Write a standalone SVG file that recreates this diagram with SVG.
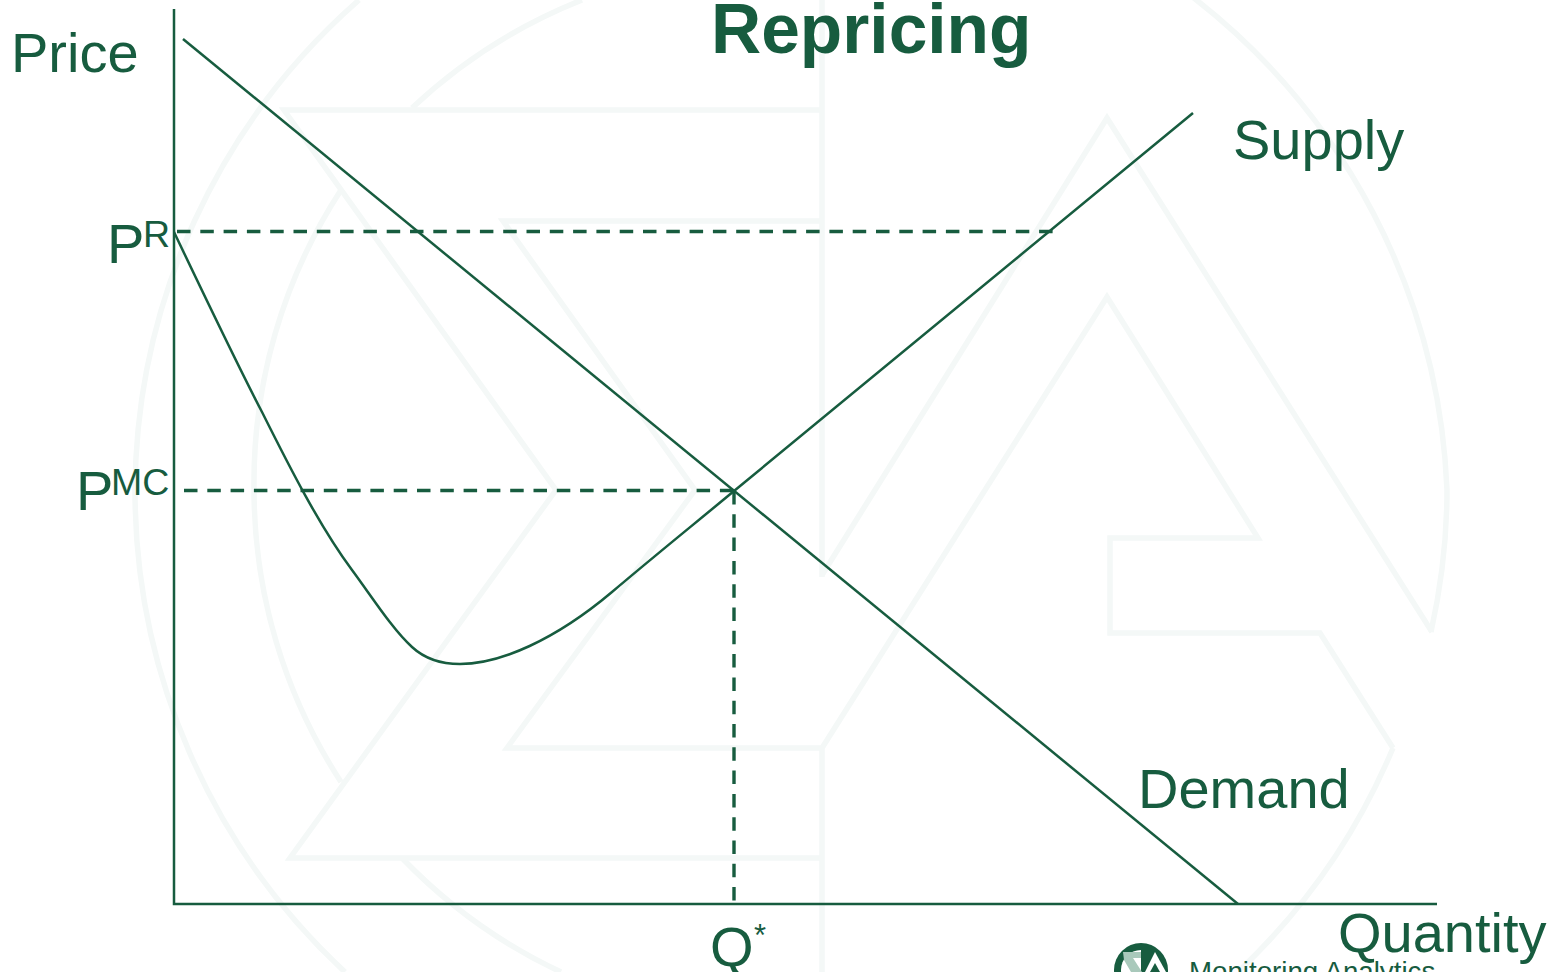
<svg xmlns="http://www.w3.org/2000/svg" width="1550" height="972" viewBox="0 0 1550 972">
<style>
text{font-family:"Liberation Sans",Arial,sans-serif;fill:#175c3f}
.l{font-size:56px}
.s{font-size:37.5px}
.wm{fill:none;stroke:#f4f8f7;stroke-width:5.5;stroke-miterlimit:10}
.c{fill:none;stroke:#175c3f;stroke-width:2.5}
.d{fill:none;stroke:#175c3f;stroke-width:3.4;stroke-dasharray:13.5 9.8}
</style>
<rect width="1550" height="972" fill="#fff"/>
<g id="watermark">
<path class="wm" d="M359 0A657 657 0 0 0 135 490A657 657 0 0 0 345 972M1190 -5A657 657 0 0 1 1447 490Q1447 560 1431 632"/>
<path class="wm" d="M1393 748A657 657 0 0 1 1240 970M412 108A537 537 0 0 1 582 0M341 190A537 537 0 0 0 254 490A537 537 0 0 0 341 782M402 858A537 537 0 0 0 561 972"/>
<path class="wm" d="M822 0V577M822 748V972M822 110H284L556 490L290 858H822M822 221H503L695 490L507 748H822"/>
<path class="wm" d="M822 575L1107 118L1432 632M822 748L1107 297L1258 538H1110V633H1320L1393 748"/>
</g>
<g id="connectors">
<path class="c" d="M174 232C205 297 240 370 262 412C290 468 320 527 352 570C372 597 393 630 412 647C425 659 442 664 460 664C500 664 555 640 612 592C652 558 693 525 734 491L1193 113"/>
<path class="c" d="M174 9V904H1437"/>
<path class="c" d="M183 39L1238 904"/>
<path class="d" d="M177 231.5H1054"/>
<path class="d" d="M184 490.5H734"/>
<path class="d" d="M734 491V901"/>
</g>
<g id="title"><text x="711" y="53" style="font-size:69.5px;font-weight:700">Repricing</text></g>
<g id="label-price"><text class="l" x="11" y="72">Price</text></g>
<g id="label-pr"><text class="l" x="107" y="263">P</text><text class="s" x="143" y="247">R</text></g>
<g id="label-pmc"><text class="l" x="76" y="510">P</text><text class="s" x="111" y="495">MC</text></g>
<g id="label-supply"><text class="l" x="1233" y="159">Supply</text></g>
<g id="label-demand"><text class="l" x="1138" y="808">Demand</text></g>
<g id="label-q"><text class="l" x="710" y="966">Q</text><text style="font-size:31px" x="754" y="946">*</text></g>
<g id="label-quantity"><text class="l" x="1338" y="952">Quantity</text></g>
<g id="logo">
<circle cx="1141" cy="970" r="27" fill="#175c3f"/>
<circle cx="1141" cy="970" r="20" fill="#fff"/>
<path d="M1141 950H1150L1162 960L1168 972H1141Z" fill="#175c3f"/>
<path d="M1123 952H1141V958H1133L1142 972H1131L1124 960Z" fill="#a9c9bb"/>
<path d="M1145 972L1155 952L1166 972Z" fill="#fff"/>
<path d="M1150 972L1155 963L1160 972Z" fill="#175c3f"/>
<text x="1189" y="981" style="font-size:27.7px">Monitoring Analytics</text>
</g>
</svg>
